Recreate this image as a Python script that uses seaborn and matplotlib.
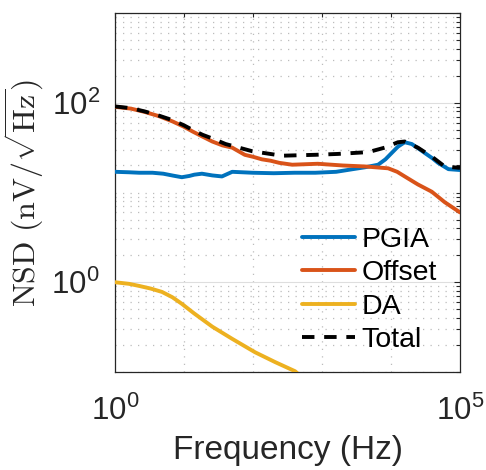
import numpy as np
import pandas as pd
import matplotlib
matplotlib.use("Agg")
import matplotlib.pyplot as plt
import seaborn as sns
from matplotlib.ticker import FixedLocator, FixedFormatter, NullFormatter

# ---------------- data ----------------
pgia_freq = [1, 1.6, 2.24, 3.5, 5.0, 7.0, 9.3, 12, 14.1, 18.2, 25.7, 35.5, 50, 98,
             200, 400, 800, 1600, 2800, 4200, 6500, 8300, 10200, 12600, 15800,
             20000, 25000, 31000, 40000, 48000, 68000, 100000]
pgia_nsd = [17.0, 16.8, 16.6, 16.6, 16.2, 15.4, 14.8, 15.3, 15.8, 16.2, 15.5, 15.1,
            17.0, 16.6, 16.4, 16.6, 16.6, 17.0, 18.2, 19.1, 20.4, 23.4, 27.5, 32.4,
            36.3, 34.7, 30.9, 27.5, 24.0, 21.4, 18.2, 17.8]

offset_freq = [1, 1.7, 2.7, 4.3, 6.8, 10, 13.2, 18.5, 25.7, 36, 50, 76, 100, 135,
               180, 240, 370, 870, 2000, 4200, 9100, 12300, 15800, 24500, 39000,
               60000, 100000]
offset_nsd = [90, 86, 79, 71, 62, 54, 48, 42, 37, 33.5, 31.6, 26.3, 25.0, 23.4,
              22.6, 21.4, 20.4, 20.9, 20.0, 19.5, 18.6, 17.0, 15.1, 12.3, 10.2,
              7.8, 6.0]

da_freq = [1, 1.6, 2.24, 3.3, 4.8, 6.8, 9.3, 14, 25.7, 50, 107, 209, 407, 630]
da_nsd = [1.0, 0.96, 0.91, 0.85, 0.78, 0.68, 0.575, 0.45, 0.32, 0.234, 0.166,
          0.129, 0.102, 0.076]

total_freq = [1, 1.7, 2.7, 4.3, 6.8, 10, 13.2, 18.5, 25.7, 40, 98, 263, 800, 1700,
              4700, 8100, 12600, 15800, 24500, 39000, 60000, 100000]
total_nsd = [91, 87, 80, 72, 64, 56, 50, 44, 40, 34.7, 28.8, 25.7, 26.3, 26.9,
             28.2, 31.6, 36.3, 37.0, 31.6, 25.1, 19.5, 18.8]

series_labels = ["PGIA", "Offset", "DA", "Total"]
x_tick_vals = [1, 1e5]
x_tick_labels = [r"$\mathdefault{10^{0}}$", r"$\mathdefault{10^{5}}$"]
y_tick_vals = [1, 100]
y_tick_labels = [r"$\mathdefault{10^{0}}$", r"$\mathdefault{10^{2}}$"]

# ---------------- style ----------------
sns.set_theme(style="white")
plt.rcParams["font.family"] = ["Liberation Sans", "DejaVu Sans"]
plt.rcParams["mathtext.fontset"] = "dejavusans"
plt.rcParams["axes.axisbelow"] = True

ink = "#262626"
fig = plt.figure(figsize=(4.86, 4.70), dpi=100)
ax = fig.add_axes([115 / 486, 1 - 372 / 470, 345 / 486, 359 / 470])

lw = 2.8
colors = ["#0072BD", "#D95319", "#EDB120", "black"]
frames = [
    pd.DataFrame({"f": pgia_freq, "v": pgia_nsd}),
    pd.DataFrame({"f": offset_freq, "v": offset_nsd}),
    pd.DataFrame({"f": da_freq, "v": da_nsd}),
    pd.DataFrame({"f": total_freq, "v": total_nsd}),
]
for i, (df, lab, col) in enumerate(zip(frames, series_labels, colors)):
    kw = dict(linestyle=(0, (3.2, 2.5))) if lab == "Total" else {}
    sns.lineplot(data=df, x="f", y="v", ax=ax, color=col, linewidth=lw,
                 label=lab, zorder=3 + i, **kw)

ax.set_xscale("log")
ax.set_yscale("log")
ax.set_xlim(1, 1e5)
ax.set_ylim(0.1, 1000)

# ticks
ax.xaxis.set_major_locator(FixedLocator(x_tick_vals))
ax.xaxis.set_major_formatter(FixedFormatter(x_tick_labels))
ax.xaxis.set_minor_locator(FixedLocator([10, 100, 1000, 10000]))
ax.xaxis.set_minor_formatter(NullFormatter())
ax.yaxis.set_major_locator(FixedLocator(y_tick_vals))
ax.yaxis.set_major_formatter(FixedFormatter(y_tick_labels))
ymin = []
for dec in [0.1, 1, 10, 100]:
    for m in range(1, 10):
        v = dec * m
        if v not in (1, 100) and v <= 1000:
            ymin.append(v)
ymin.append(1000)
ax.yaxis.set_minor_locator(FixedLocator(ymin))
ax.yaxis.set_minor_formatter(NullFormatter())

ax.tick_params(which="both", direction="in", top=True, right=True,
               color=ink, width=0.8)
ax.tick_params(which="major", length=4)
ax.tick_params(which="minor", length=3)
ax.tick_params(axis="x", which="major", labelsize=22.5, pad=17, labelcolor=ink)
ax.tick_params(axis="y", which="major", labelsize=22.5, pad=11, labelcolor=ink)

for s in ax.spines.values():
    s.set_visible(True)
    s.set_color(ink)
    s.set_linewidth(0.9)

# grid
ax.grid(which="major", axis="y", color="#dedede", linewidth=0.8, linestyle="-")
ax.grid(which="major", axis="x", visible=False)
ax.grid(which="minor", color="#bcbcbc", linewidth=0.9, linestyle=(0, (1, 5)))

ax.set_xlabel("Frequency (Hz)", fontsize=24, color=ink, labelpad=6)
ax.set_ylabel(r"$\mathrm{NSD}\ (\mathrm{nV}/\sqrt{\mathrm{Hz}})$", fontsize=23,
              color=ink, labelpad=4, math_fontfamily="cm")

leg = ax.legend(loc="lower right", bbox_to_anchor=(1.0, -0.011), frameon=False,
                fontsize=20.5, handlelength=1.86, handletextpad=0.25,
                labelspacing=0.265, borderaxespad=0.4)
for t in leg.get_texts():
    t.set_color("black")

fig.savefig("out.png", dpi=100)
